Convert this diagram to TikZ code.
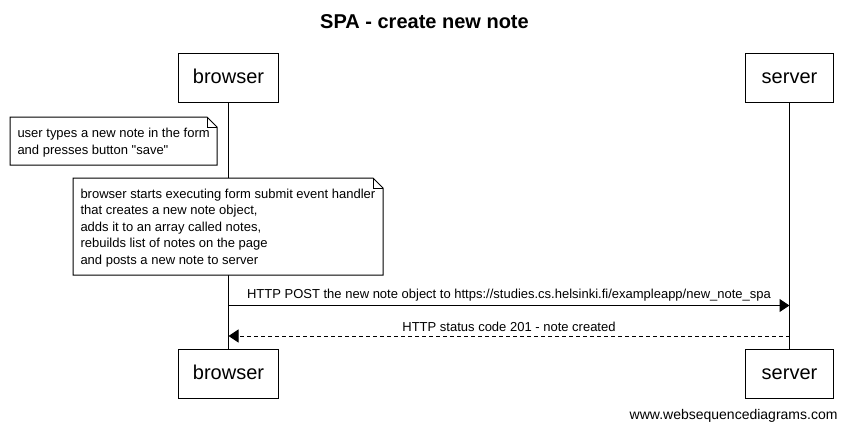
\documentclass[tikz,border=0pt]{standalone}
\usepackage{fontspec}
\setmainfont{Liberation Sans}[Ligatures=TeXOff]
\usetikzlibrary{arrows.meta,calc}
\begin{document}
\begin{tikzpicture}[x=1pt,y=-1pt,line width=1pt,
  actor/.style={draw,fill=white,minimum height=49pt,inner sep=0pt,text height=15pt,text depth=4pt,font=\fontsize{20}{24}\selectfont},
  notetext/.style={anchor=west,inner xsep=7pt,inner ysep=0pt,yshift=-1.5pt,align=left,font=\fontsize{13}{16.4}\selectfont},
  notebox/.style={draw,fill=white},
  msg/.style={font=\fontsize{13}{16}\selectfont,inner sep=0pt},
  headtip/.style={-{Triangle[length=10pt,width=13pt]}},
  lifeline/.style={draw,line width=1pt}]
\useasboundingbox (0,0) rectangle (847,432);
\fill[white] (0,0) rectangle (847,432);
\node[font=\bfseries\fontsize{20}{24}\selectfont] (title) at (424.5,22) {SPA - create new note};
% participants
\node[actor,minimum width=100pt] (bt) at (228.5,77.5) {browser};
\node[actor,minimum width=88pt] (st) at (789.5,77.5) {server};
\node[actor,minimum width=100pt] (bb) at (228.5,373.5) {browser};
\node[actor,minimum width=88pt] (sb) at (789.5,373.5) {server};
\draw[lifeline] (bt.south) -- (bb.north);
\draw[lifeline] (st.south) -- (sb.north);
% note 1
\coordinate (n1nw) at (10,117);
\coordinate (n1se) at (217,165);
\coordinate (n1ne) at (n1se |- n1nw);
\coordinate (n1sw) at (n1nw |- n1se);
\draw[notebox] (n1nw) -- ($(n1ne)+(-10,0)$) -- ($(n1ne)+(0,10)$) -- (n1se) -- (n1sw) -- cycle;
\draw ($(n1ne)+(-10,0)$) |- ($(n1ne)+(0,10)$);
\node[notetext] (n1) at ($(n1nw)!0.5!(n1sw)$) {user types a new note in the form\\and presses button "save"};
% note 2
\coordinate (n2nw) at (73,178);
\coordinate (n2se) at (383,275);
\coordinate (n2ne) at (n2se |- n2nw);
\coordinate (n2sw) at (n2nw |- n2se);
\draw[notebox] (n2nw) -- ($(n2ne)+(-10,0)$) -- ($(n2ne)+(0,10)$) -- (n2se) -- (n2sw) -- cycle;
\draw ($(n2ne)+(-10,0)$) |- ($(n2ne)+(0,10)$);
\node[notetext] (n2) at ($(n2nw)!0.5!(n2sw)$) {browser starts executing form submit event handler\\that creates a new note object,\\adds it to an array called notes,\\rebuilds list of notes on the page\\and posts a new note to server};
% messages
\coordinate (m1a) at (bt.south |- 0,305.5);
\coordinate (m1b) at (st.south |- 0,305.5);
\draw[headtip] (m1a) -- (m1b) node[msg,midway,above=4pt] (l1) {HTTP POST the new note object to https://studies.cs.helsinki.fi/exampleapp/new\_note\_spa};
\coordinate (m2a) at (st.south |- 0,336);
\coordinate (m2b) at (bt.south |- 0,336);
\draw[headtip,dash pattern=on 4pt off 3pt] (m2a) -- (m2b) node[msg,midway,above=4pt] (l2) {HTTP status code 201 - note created};
\node[font=\fontsize{14}{17}\selectfont,anchor=east,inner sep=0pt] (foot) at (838,416) {www.websequencediagrams.com};
\end{tikzpicture}
\end{document}
